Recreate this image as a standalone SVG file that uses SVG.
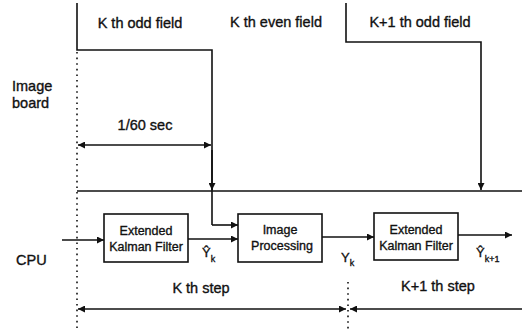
<svg xmlns="http://www.w3.org/2000/svg" width="526" height="331" viewBox="0 0 526 331">
<defs>
<style>
text{font-family:"Liberation Sans",Arial,sans-serif;fill:#111;stroke:#111;stroke-width:0.35;}
.lbl{font-size:14.5px;}
.box{font-size:12.5px;text-anchor:middle;}
.mid{text-anchor:middle;}
.ln{stroke:#111;stroke-width:1.6;fill:none;}
.dot{stroke:#111;stroke-width:1.6;fill:none;stroke-dasharray:1.6 4;}
.node rect{fill:#fff;stroke:#111;stroke-width:1.6;}
</style>
<marker id="ah" viewBox="0 0 10 10" refX="10" refY="5" markerWidth="9" markerHeight="7" markerUnits="userSpaceOnUse" orient="auto-start-reverse">
<path d="M0,0 L10,5 L0,10 Z" fill="#111"/>
</marker>
</defs>

<g id="labels">
<text class="lbl mid" x="140" y="28">K th odd field</text>
<text class="lbl mid" x="276" y="27">K th even field</text>
<text class="lbl mid" x="420" y="27">K+1 th odd field</text>
<text class="lbl" x="12" y="91">Image</text>
<text class="lbl" x="12" y="108">board</text>
<text class="lbl mid" x="145" y="130">1/60 sec</text>
<text class="lbl" x="16" y="265">CPU</text>
<text class="lbl mid" x="201" y="293">K th step</text>
<text class="lbl mid" x="438" y="291">K+1 th step</text>
</g>

<g id="connectors">
<path class="ln" d="M77,3 V50 H212 V225"/>
<path class="dot" d="M77,52 V331"/>
<path class="ln" d="M212,150 V190" marker-end="url(#ah)"/>
<path class="ln" d="M346,3 V42 H481 V190" marker-end="url(#ah)"/>
<path class="ln" d="M77,191 H522"/>
<path class="ln" d="M78,145 H211" marker-start="url(#ah)" marker-end="url(#ah)"/>
<path class="ln" d="M62,240 H104" marker-end="url(#ah)"/>
<path class="ln" d="M188,239 H238" marker-end="url(#ah)"/>
<path class="ln" d="M212,225 H238" marker-end="url(#ah)"/>
<path class="ln" d="M322,237 H374" marker-end="url(#ah)"/>
<path class="ln" d="M458,235 H512" marker-end="url(#ah)"/>
<path class="dot" d="M348,282 V331"/>
<path class="ln" d="M78,309 H346" marker-start="url(#ah)" marker-end="url(#ah)"/>
<path class="ln" d="M350,309 H522" marker-start="url(#ah)"/>
</g>

<g id="ekf1" class="node">
<rect x="104" y="214" width="84" height="48"/>
<text class="box" x="146" y="235">Extended</text>
<text class="box" x="146" y="251">Kalman Filter</text>
</g>

<g id="imgproc" class="node">
<rect x="238" y="214" width="84" height="48"/>
<text class="box" x="280" y="234">Image</text>
<text class="box" x="282" y="250">Processing</text>
</g>

<g id="ekf2" class="node">
<rect x="374" y="213" width="84" height="47"/>
<text class="box" x="416" y="234">Extended</text>
<text class="box" x="416" y="250">Kalman Filter</text>
</g>

<g id="signals">
<text x="202" y="257" style="font-size:13px">Ŷ<tspan dy="5" style="font-size:9px">k</tspan></text>
<text x="341" y="262" style="font-size:13px">Y<tspan dy="4" style="font-size:9px">k</tspan></text>
<text x="476" y="257" style="font-size:13px">Ŷ<tspan dy="5" style="font-size:9px">k+1</tspan></text>
</g>
</svg>
